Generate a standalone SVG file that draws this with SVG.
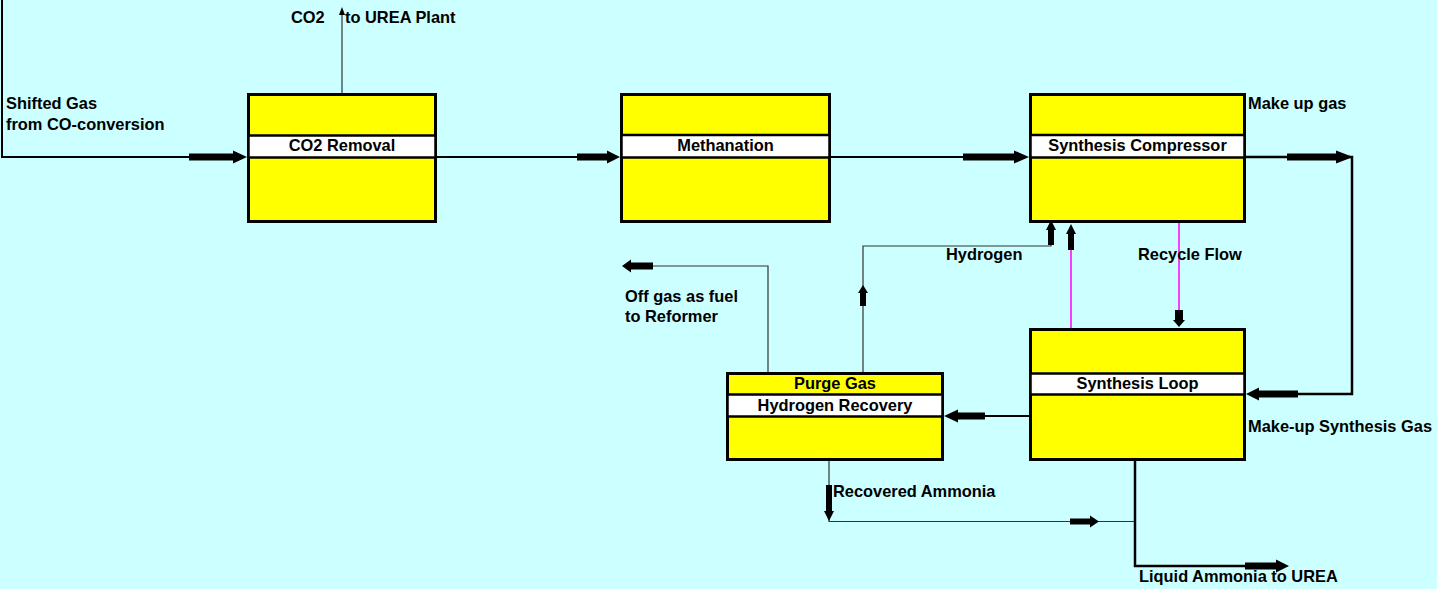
<svg xmlns="http://www.w3.org/2000/svg" width="1437" height="589" viewBox="0 0 1437 589">
<style>
.box{fill:#FFFF00;stroke:#000;stroke-width:3}
.band{fill:#FFFFFF;stroke:#000;stroke-width:2.5}
.lbl{font-family:"Liberation Sans",Arial,sans-serif;font-weight:bold;font-size:16.4px;fill:#000}
.mid{text-anchor:middle}
.main{fill:none;stroke:#000;stroke-width:2}
.thick{fill:none;stroke:#000;stroke-width:2.5}
.thin{fill:none;stroke:#333;stroke-width:1.2}
.mag{fill:none;stroke:#FF00FF;stroke-width:1.5}
.ah{fill:#000;stroke:none}
</style>
<rect x="0" y="0" width="1437" height="589" fill="#CCFFFF"/>
<g id="connectors">
<polyline class="main" points="2,0 2,157 240,157"/>
<line class="main" x1="437" y1="157" x2="612" y2="157"/>
<line class="main" x1="831" y1="157" x2="1020" y2="157"/>
<polyline class="thick" points="1246,157 1352,157 1352,394 1255,394"/>
<line class="thin" x1="342" y1="93" x2="342" y2="12"/>
<line class="mag" x1="1179" y1="223" x2="1179" y2="312"/>
<line class="mag" x1="1071" y1="328" x2="1071" y2="248"/>
<polyline class="thin" points="863,372 863,246 1051,246 1051,232"/>
<polyline class="thin" points="768,372 768,266 650,266"/>
<line class="main" x1="1029" y1="416" x2="960" y2="416"/>
<polyline class="thin" points="829,461 829,521.5 1135,521.5"/>
<polyline class="thick" points="1135,461 1135,566 1250,566"/>
<path class="ah" d="M189,153.5 L233,153.5 L233,150.5 L247,157 L233,163.5 L233,160.5 L189,160.5 Z"/>
<path class="ah" d="M577,153.5 L607,153.5 L607,150.5 L620,157 L607,163.5 L607,160.5 L577,160.5 Z"/>
<path class="ah" d="M963,153.5 L1014,153.5 L1014,150.5 L1029,157 L1014,163.5 L1014,160.5 L963,160.5 Z"/>
<path class="ah" d="M1287,153.5 L1336,153.5 L1336,150.5 L1353,157 L1336,163.5 L1336,160.5 L1287,160.5 Z"/>
<path class="ah" d="M1298,390.5 L1259,390.5 L1259,387.5 L1246,394 L1259,400.5 L1259,397.5 L1298,397.5 Z"/>
<path class="ah" d="M985,412.5 L958,412.5 L958,409.5 L944,416 L958,422.5 L958,419.5 L985,419.5 Z"/>
<path class="ah" d="M653,262.5 L631,262.5 L631,259.5 L622,266 L631,272.5 L631,269.5 L653,269.5 Z"/>
<path class="ah" d="M1070,518.5 L1090,518.5 L1090,515.5 L1099,521.5 L1090,527.5 L1090,524.5 L1070,524.5 Z"/>
<path class="ah" d="M1245,562.5 L1276,562.5 L1276,559.5 L1289,566 L1276,572.5 L1276,569.5 L1245,569.5 Z"/>
<path class="ah" d="M1175,310 L1175,320 L1173,320 L1179,327 L1185,320 L1183,320 L1183,310 Z"/>
<path class="ah" d="M1068,250 L1068,234 L1066,234 L1071,224 L1076,234 L1074,234 L1074,250 Z"/>
<path class="ah" d="M1048,245 L1048,230 L1046,230 L1051,220 L1056,230 L1054,230 L1054,245 Z"/>
<path class="ah" d="M860,306 L860,293 L858,293 L863,285 L868,293 L866,293 L866,306 Z"/>
<path class="ah" d="M826,485 L826,511 L824,511 L829,521 L834,511 L832,511 L832,485 Z"/>
<path class="ah" d="M339,15 L342,7 L345,15 Z"/>
</g>
<g id="n-co2removal">
<rect class="box" x="248.5" y="94.5" width="187" height="127"/>
<rect class="band" x="248.5" y="135.5" width="187" height="22"/>
<text class="lbl mid" x="342" y="151">CO2 Removal</text>
</g>
<g id="n-methanation">
<rect class="box" x="621.5" y="94.5" width="208" height="127"/>
<rect class="band" x="621.5" y="135" width="208" height="22.5"/>
<text class="lbl mid" x="725.5" y="151">Methanation</text>
</g>
<g id="n-compressor">
<rect class="box" x="1030.5" y="94.5" width="214" height="127"/>
<rect class="band" x="1030.5" y="135" width="214" height="22.5"/>
<text class="lbl mid" x="1137.5" y="151">Synthesis Compressor</text>
</g>
<g id="n-loop">
<rect class="box" x="1030.5" y="329.5" width="214" height="130"/>
<rect class="band" x="1030.5" y="373.5" width="214" height="21"/>
<text class="lbl mid" x="1137.5" y="389">Synthesis Loop</text>
</g>
<g id="n-h2recovery">
<rect class="box" x="727.5" y="373.5" width="215" height="86"/>
<rect class="band" x="727.5" y="394.5" width="215" height="22"/>
<text class="lbl mid" x="835" y="389">Purge Gas</text>
<text class="lbl mid" x="835" y="410.5">Hydrogen Recovery</text>
</g>
<g id="labels">
<text class="lbl" x="6" y="109">Shifted Gas</text>
<text class="lbl" x="6" y="130">from CO-conversion</text>
<text class="lbl" x="291" y="23">CO2</text>
<text class="lbl" x="345" y="23">to UREA Plant</text>
<text class="lbl" x="1248" y="109">Make up gas</text>
<text class="lbl" x="1138" y="260">Recycle Flow</text>
<text class="lbl" x="946" y="260">Hydrogen</text>
<text class="lbl" x="625" y="302">Off gas as fuel</text>
<text class="lbl" x="625" y="322">to Reformer</text>
<text class="lbl" x="1248" y="432">Make-up Synthesis Gas</text>
<text class="lbl" x="833" y="497">Recovered Ammonia</text>
<text class="lbl" x="1139" y="582">Liquid Ammonia to UREA</text>
</g>
</svg>
